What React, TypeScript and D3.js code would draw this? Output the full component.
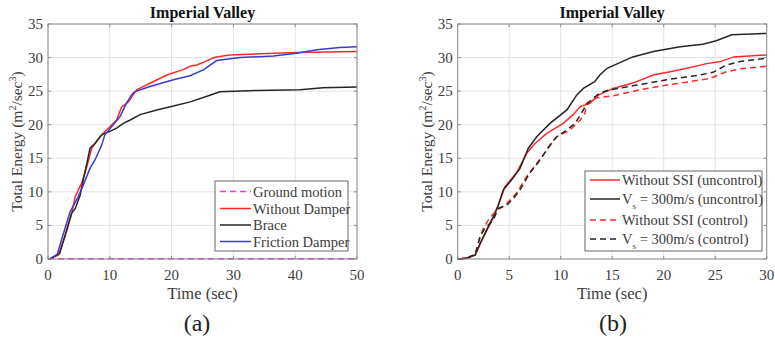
import React from 'react';
import * as d3 from 'd3';

// ---- panel (a) data ----
const groundT = [0, 50];
const groundV = [0.05, 0.05];

const noDamperT = [0, 0.3, 1.7, 2.75, 3.8, 4.4, 5.45, 6.3, 7.07, 8.4, 10, 11.1, 11.9, 13, 14.35, 17, 19.2, 21.9, 23, 24.1, 25.4, 27, 29.4, 40.2, 50];
const noDamperV = [0, 0, 0.6, 3.3, 6.6, 9.3, 11.3, 13.8, 16.5, 18.2, 19.7, 20.7, 22.6, 23.4, 25.2, 26.4, 27.4, 28.2, 28.7, 28.9, 29.4, 30.05, 30.4, 30.75, 30.9];

const braceT = [0, 0.3, 1.9, 3, 3.8, 4.4, 5.2, 5.7, 6.3, 6.8, 7.6, 8.7, 10, 11.1, 12.2, 13.3, 14.9, 17.6, 20.3, 23, 26.2, 27.8, 33.8, 40.8, 44.5, 50];
const braceV = [0, 0, 0.85, 4.3, 6.8, 7.5, 9.5, 11.8, 14.3, 16.5, 17.2, 18.5, 19.0, 19.5, 20.2, 20.7, 21.5, 22.2, 22.8, 23.4, 24.4, 24.9, 25.1, 25.2, 25.5, 25.6];

const frictionT = [0, 0.3, 1.5, 2.5, 3.56, 4.9, 5.7, 6.8, 7.6, 8.7, 9.2, 10.3, 11.65, 12.7, 13.5, 14, 16.5, 20.3, 23, 25.2, 27.3, 31.1, 36.5, 40.2, 43.5, 47.2, 50];
const frictionV = [0, 0, 0.7, 3.8, 7.0, 9.3, 11.0, 13.5, 14.75, 17, 18.5, 19.7, 21.2, 23.2, 24.4, 24.9, 25.7, 26.7, 27.3, 28.2, 29.55, 30.0, 30.25, 30.65, 31.15, 31.5, 31.6];

// ---- panel (b) data ----
const ssiUncT = [0, 0.2, 1.0, 1.7, 2.17, 2.8, 3.46, 3.94, 4.6, 5.7, 6.7, 7.5, 8.64, 10.25, 11.2, 11.9, 12.85, 13.65, 14.5, 15.1, 17, 19, 21.6, 24.2, 25.5, 26.8, 30];
const ssiUncV = [0, 0, 0.2, 0.6, 2.2, 4.2, 6.2, 8.0, 10.8, 12.8, 15.75, 17.2, 18.7, 20.2, 21.5, 22.7, 23.2, 24.4, 25.0, 25.4, 26.2, 27.4, 28.2, 29.1, 29.4, 30.1, 30.4];

const vsUncT = [0, 0.2, 1.0, 1.7, 2.17, 2.8, 3.46, 3.94, 4.43, 5.24, 6.05, 6.86, 7.67, 8.96, 10.6, 11.55, 12.2, 13.3, 13.8, 14.5, 17, 19, 21.6, 23.8, 25.1, 26.6, 30];
const vsUncV = [0, 0, 0.2, 0.6, 2.3, 4.3, 6.3, 8.0, 10.3, 11.8, 13.5, 16.5, 18.2, 20.2, 22.2, 24.4, 25.4, 26.4, 27.4, 28.4, 30.1, 30.9, 31.6, 32.0, 32.5, 33.4, 33.6];

const ssiCtrlT = [0, 0.2, 1.0, 1.7, 2.17, 2.5, 3.1, 3.8, 4.6, 5.1, 5.7, 6.7, 7.7, 8.64, 9.6, 10.9, 11.9, 12.36, 12.5, 13.5, 15.1, 17.7, 20.3, 22.9, 24.5, 26.1, 27.4, 30];
const ssiCtrlV = [0, 0, 0.2, 0.7, 3.3, 4.6, 6.1, 7.3, 8.0, 8.8, 9.8, 12.3, 14.3, 16.2, 18.2, 19.2, 20.7, 21.7, 23.2, 24.0, 24.3, 25.2, 25.9, 26.5, 26.9, 27.9, 28.3, 28.7];

const vsCtrlT = [0, 0.2, 1.0, 1.7, 2.17, 2.6, 3.46, 3.94, 4.75, 5.4, 6.05, 7.0, 8.0, 8.96, 9.6, 10.4, 11.4, 12.2, 12.5, 13.2, 13.8, 14.5, 17, 20.3, 23.5, 24.8, 26.1, 27.4, 30];
const vsCtrlV = [0, 0, 0.2, 0.7, 3.3, 4.5, 5.8, 7.55, 8.0, 9.0, 10.3, 12.8, 14.75, 17, 18.2, 19, 20.2, 22.2, 23, 24, 24.7, 25.1, 25.8, 26.7, 27.4, 27.8, 28.9, 29.4, 29.9];

const yTicks = [0, 5, 10, 15, 20, 25, 30, 35];
const xTicksA = [0, 10, 20, 30, 40, 50];
const xTicksB = [0, 5, 10, 15, 20, 25, 30];

const FONT = '"Liberation Serif", "Times New Roman", serif';
const TXT = '#3c3c3c';

type Series = { name: string; t: number[]; v: number[]; color: string; dash?: string; sub?: boolean };

const seriesA: Series[] = [
  { name: 'Ground motion', t: groundT, v: groundV, color: '#e040e0', dash: '6,4' },
  { name: 'Without Damper', t: noDamperT, v: noDamperV, color: '#ff2a2a' },
  { name: 'Brace', t: braceT, v: braceV, color: '#262626' },
  { name: 'Friction Damper', t: frictionT, v: frictionV, color: '#3a3ad0' },
];

const seriesB: Series[] = [
  { name: 'Without SSI (uncontrol)', t: ssiUncT, v: ssiUncV, color: '#ff2a2a' },
  { name: ' = 300m/s (uncontrol)', t: vsUncT, v: vsUncV, color: '#262626', sub: true },
  { name: 'Without SSI (control)', t: ssiCtrlT, v: ssiCtrlV, color: '#ff2a2a', dash: '6,4' },
  { name: ' = 300m/s (control)', t: vsCtrlT, v: vsCtrlV, color: '#262626', dash: '6,4', sub: true },
];

type PanelProps = {
  left: number; right: number; top: number; bottom: number;
  xMax: number; xTicks: number[]; series: Series[];
  ylabX: number; caption: string; capX: number;
  legend: { x0: number; x1: number; y0: number; y1: number; rows: number[]; lx0: number; lx1: number; tx: number };
};

function Panel(p: PanelProps) {
  const x = d3.scaleLinear().domain([0, p.xMax]).range([p.left, p.right]);
  const y = d3.scaleLinear().domain([0, 35]).range([p.bottom, p.top]);
  const line = d3.line<[number, number]>().x(d => x(d[0])).y(d => y(d[1]));
  const cx = (p.left + p.right) / 2;
  const lg = p.legend;
  return (
    <g>
      {/* grid */}
      {p.xTicks.map(t => (
        <line key={'gx' + t} x1={x(t)} x2={x(t)} y1={p.top} y2={p.bottom} stroke="#e4e4e4" strokeWidth={1} />
      ))}
      {yTicks.map(t => (
        <line key={'gy' + t} x1={p.left} x2={p.right} y1={y(t)} y2={y(t)} stroke="#e4e4e4" strokeWidth={1} />
      ))}
      {/* series */}
      {p.series.map(s => (
        <path key={s.name} d={line(s.t.map((t, i) => [t, s.v[i]] as [number, number])) || ''}
          fill="none" stroke={s.color} strokeWidth={1.5} strokeDasharray={s.dash} />
      ))}
      {/* box */}
      <rect x={p.left} y={p.top} width={p.right - p.left} height={p.bottom - p.top} fill="none" stroke="#8c8c8c" strokeWidth={1} />
      {p.xTicks.map(t => (
        <g key={'tx' + t}>
          <line x1={x(t)} x2={x(t)} y1={p.bottom} y2={p.bottom - 3} stroke="#8c8c8c" />
          <line x1={x(t)} x2={x(t)} y1={p.top} y2={p.top + 3} stroke="#8c8c8c" />
          <text x={x(t)} y={p.bottom + 21} textAnchor="middle" fontSize={15} fill={TXT}>{t}</text>
        </g>
      ))}
      {yTicks.map(t => (
        <g key={'ty' + t}>
          <line x1={p.left} x2={p.left + 3} y1={y(t)} y2={y(t)} stroke="#8c8c8c" />
          <line x1={p.right} x2={p.right - 3} y1={y(t)} y2={y(t)} stroke="#8c8c8c" />
          <text x={p.left - 5} y={y(t) + 5} textAnchor="end" fontSize={15} fill={TXT}>{t}</text>
        </g>
      ))}
      {/* labels */}
      <text x={cx} y={18} textAnchor="middle" fontSize={16} fontWeight="bold" fill="#111">Imperial Valley</text>
      <text x={cx} y={299} textAnchor="middle" fontSize={16.5} fill={TXT}>Time (sec)</text>
      <text transform={`translate(${p.ylabX},${(p.top + p.bottom) / 2}) rotate(-90)`} textAnchor="middle" fontSize={15.5} fill={TXT}>
        Total Energy (m<tspan dy={-6} fontSize={10}>2</tspan><tspan dy={6}>/sec</tspan><tspan dy={-6} fontSize={10}>3</tspan><tspan dy={6}>)</tspan>
      </text>
      <text x={p.capX} y={331} textAnchor="middle" fontSize={24} fill="#222">{p.caption}</text>
      {/* legend */}
      <rect x={lg.x0} y={lg.y0} width={lg.x1 - lg.x0} height={lg.y1 - lg.y0} fill="#fff" stroke="#666" strokeWidth={1} />
      {p.series.map((s, i) => (
        <g key={'lg' + s.name}>
          <line x1={lg.lx0} x2={lg.lx1} y1={lg.rows[i]} y2={lg.rows[i]} stroke={s.color} strokeWidth={1.5} strokeDasharray={s.dash} />
          <text x={lg.tx} y={lg.rows[i] + 5} fontSize={14.5} fill={TXT}>
            {s.sub ? <>V<tspan dy={5} fontSize={9}>s</tspan><tspan dy={-5}>{s.name}</tspan></> : s.name}
          </text>
        </g>
      ))}
    </g>
  );
}

export default function App() {
  return (
    <svg width={775} height={340} style={{ position: 'absolute', left: 0, top: 0, background: '#fff' }} fontFamily={FONT}>
      <rect width={775} height={340} fill="#fff" />
      <Panel left={48} right={357} top={24} bottom={259} xMax={50} xTicks={xTicksA} series={seriesA}
        ylabX={22} caption="(a)" capX={197}
        legend={{ x0: 215, x1: 348, y0: 181, y1: 251, rows: [191.5, 208.5, 225, 241.5], lx0: 220, lx1: 251, tx: 253 }} />
      <Panel left={457.7} right={766.7} top={24} bottom={259} xMax={30} xTicks={xTicksB} series={seriesB}
        ylabX={432} caption="(b)" capX={613}
        legend={{ x0: 585, x1: 762, y0: 171, y1: 251, rows: [180, 199, 220, 239], lx0: 590, lx1: 620, tx: 622 }} />
    </svg>
  );
}
